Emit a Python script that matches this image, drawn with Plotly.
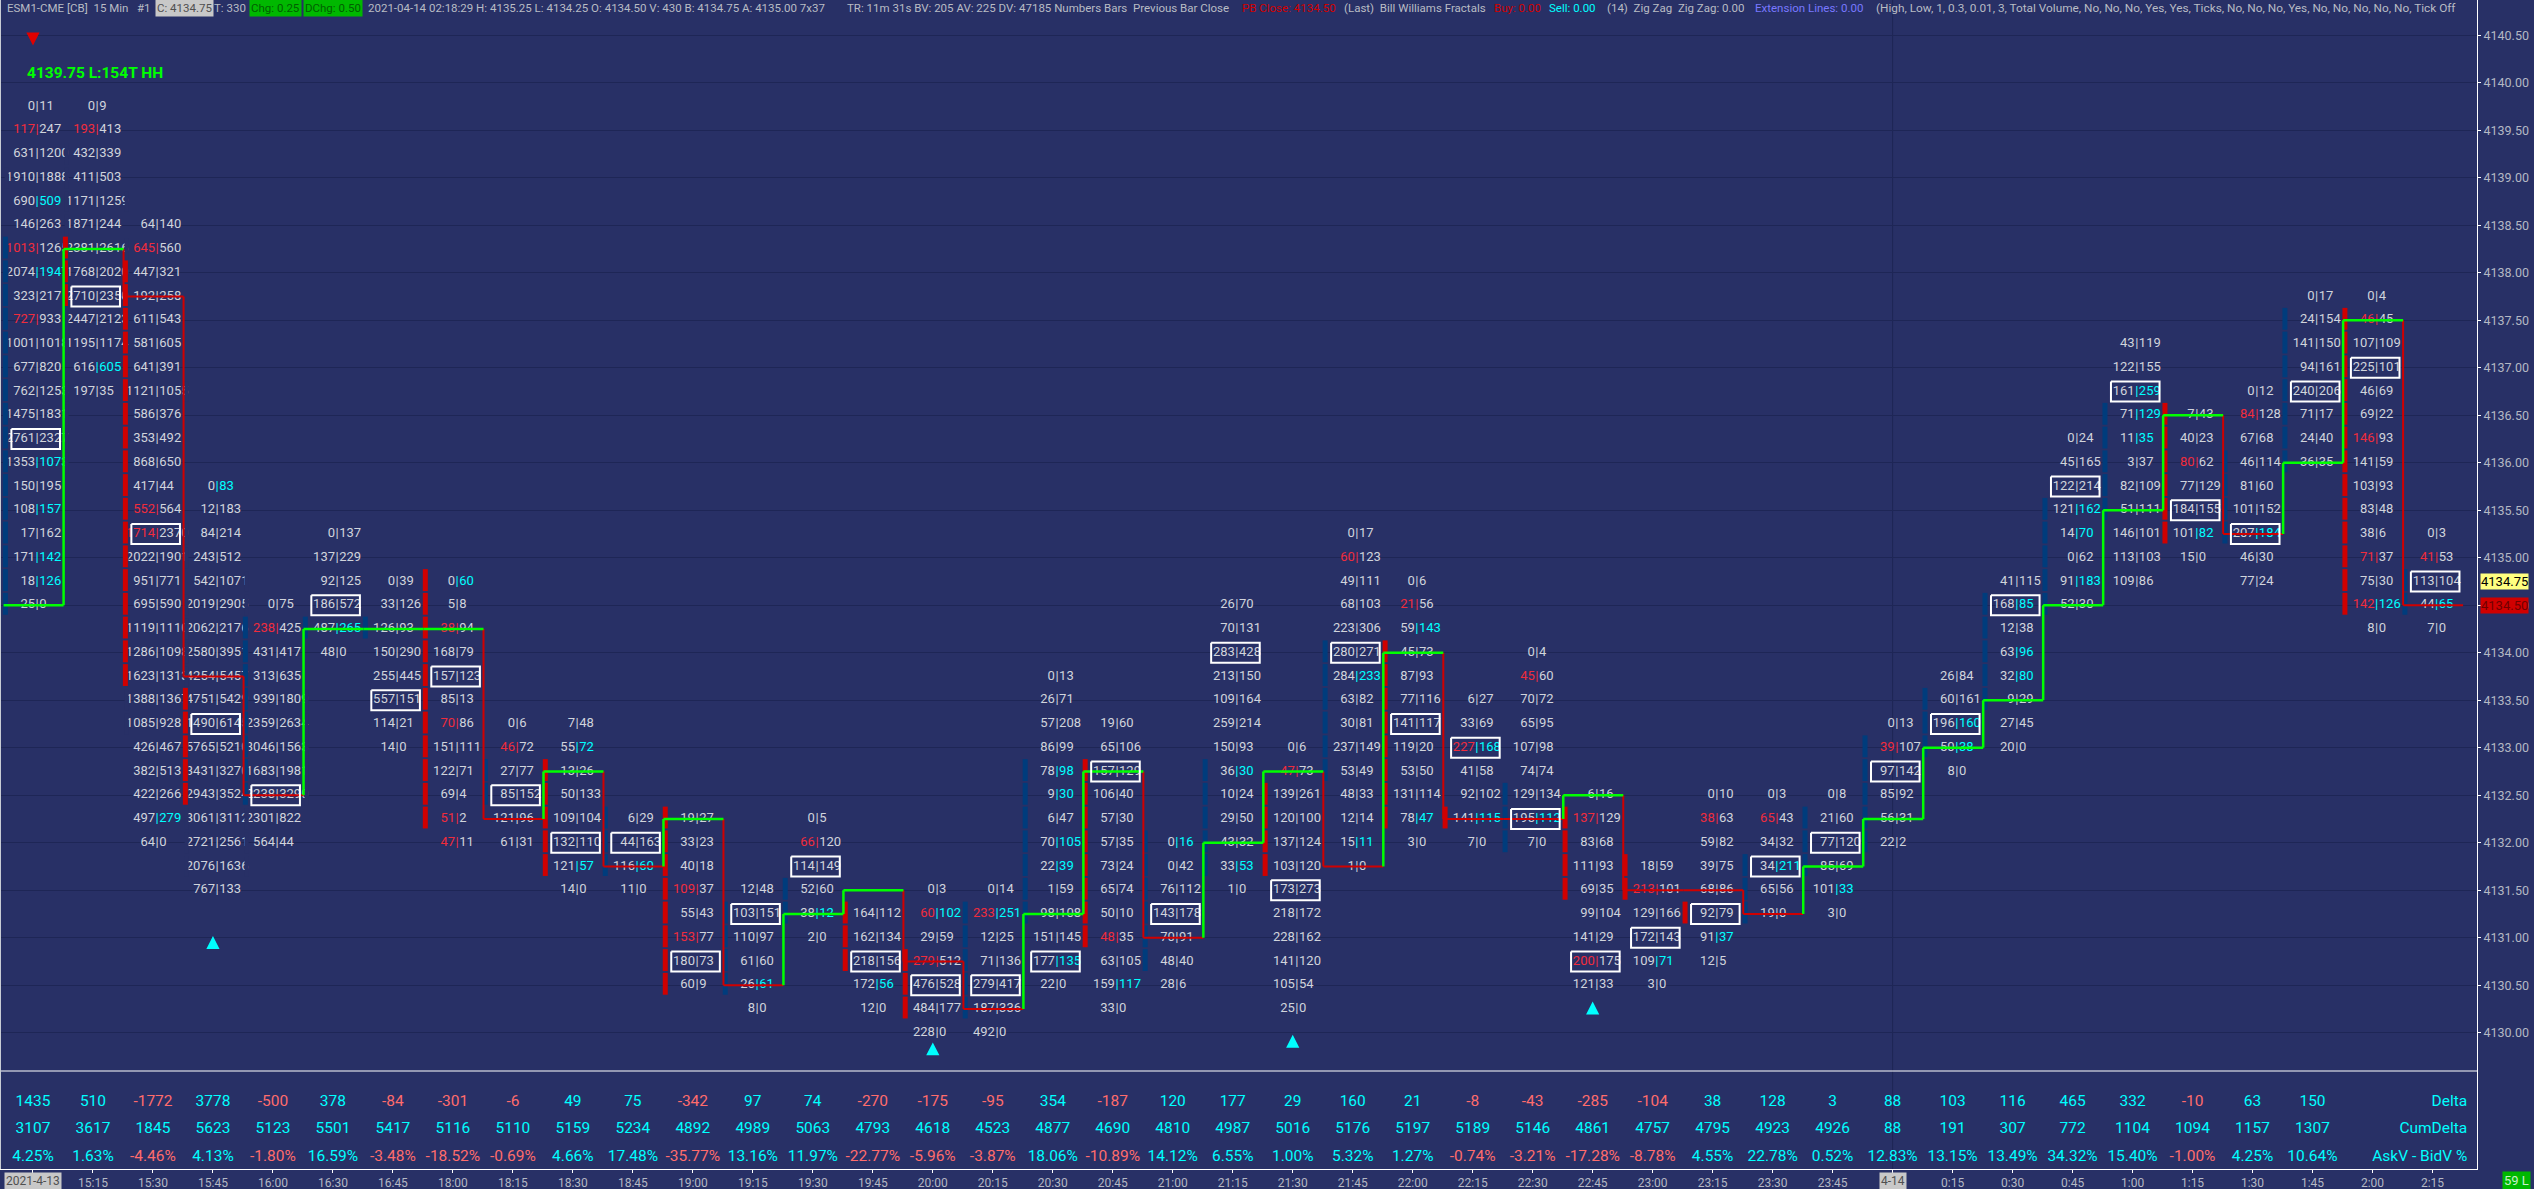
# ES footprint chart, 15 min bars, with delta rows under it
import plotly.graph_objects as go

BG = '#283066'
GRID = '#1e2656'
TEXT = '#d0d4dc'
RED = '#f02c3c'
CYAN = '#00ffff'
BAR_RED = '#d00000'
BAR_BLUE = '#003c7c'
FONT = 'Roboto'

time_labels = ['', '15:15', '15:30', '15:45', '16:00', '16:30', '16:45', '18:00', '18:15', '18:30', '18:45',
               '19:00', '19:15', '19:30', '19:45', '20:00', '20:15', '20:30', '20:45', '21:00', '21:15',
               '21:30', '21:45', '22:00', '22:15', '22:30', '22:45', '23:00', '23:15', '23:30', '23:45',
               '', '0:15', '0:30', '0:45', '1:00', '1:15', '1:30', '1:45', '2:00', '2:15']

# price of the first row in each bar
top_price = [4139.75, 4139.75, 4138.5, 4135.75, 4134.5, 4135.25, 4134.75, 4134.75, 4133.25, 4133.25,
             4132.25, 4132.25, 4131.5, 4132.25, 4131.25, 4131.5, 4131.5, 4133.75, 4133.25, 4132.0,
             4134.5, 4133.0, 4135.25, 4134.75, 4133.5, 4134.0, 4132.5, 4131.75, 4132.5, 4132.5,
             4132.5, 4133.25, 4133.75, 4134.75, 4136.25, 4137.25, 4136.5, 4136.75, 4137.75, 4137.75, 4135.25]

# bid|ask per row, r = red bid, c = cyan ask
bar_00 = ['0|11', 'r117|247', '631|1200', '1910|1888', '690|509c', '146|263', 'r1013|1265', '2074|1947c', '323|217', 'r727|933', '1001|1018', '677|820', '762|1253', '1475|1831', '2761|2327', '1353|1073c', '150|195', '108|157c', '17|162', '171|142c', '18|126c', '25|0']
bar_01 = ['0|9', 'r193|413', '432|339', '411|503', '1171|1259', '1871|244', '2381|2616', '1768|2020', '2710|2350', '2447|2123', '1195|1174', '616|605c', '197|35']
bar_02 = ['64|140', 'r645|560', '447|321', '192|258', '611|543', '581|605', '641|391', '1121|1055', '586|376', '353|492', '868|650', '417|44', 'r552|564', 'r1714|2370', '2022|1901', '951|771', '695|590', '1119|1110', '1286|1098', '1623|1313', '1388|1367', '1085|928', '426|467', '382|513', '422|266', '497|279c', '64|0']
bar_03 = ['0|83c', '12|183', '84|214', '243|512', '542|1071', '2019|2905', '2062|2176', '2580|3951', '4254|5457', '4751|5429', '1490|6145', '5765|5210', '3431|3270', '2943|3524', '3061|3112', '2721|2561', '2076|1636', '767|133']
bar_04 = ['0|75', 'r238|425', '431|417', '313|635', '939|1809', '2359|2634', '3046|1563', '1683|1981', '2238|3290', '2301|822', '564|44']
bar_05 = ['0|137', '137|229', '92|125', '186|572', '487|265c', '48|0']
bar_06 = ['0|39', '33|126', '126|93', '150|290', '255|445', '557|151', '114|21', '14|0']
bar_07 = ['0|60c', '5|8', 'r38|94', '168|79', '157|123', '85|13', 'r70|86', '151|111', '122|71', '69|4', 'r51|2', 'r47|11']
bar_08 = ['0|6', 'r46|72', '27|77', '85|152', '121|96', '61|31']
bar_09 = ['7|48', '55|72c', '13|26', '50|133', '109|104', '132|110', '121|57c', '14|0']
bar_10 = ['6|29', '44|163', '116|60c', '11|0']
bar_11 = ['19|27', '33|23', '40|18', 'r109|37', '55|43', 'r153|77', '180|73', '60|9']
bar_12 = ['12|48', '103|151', '110|97', '61|60', '26|61c', '8|0']
bar_13 = ['0|5', 'r66|120', '114|149', '52|60', '38|12c', '2|0']
bar_14 = ['164|112', '162|134', '218|156', '172|56c', '12|0']
bar_15 = ['0|3', 'r60|102c', '29|59', 'r279|512', '476|528', '484|177', '228|0']
bar_16 = ['0|14', 'r233|251c', '12|25', '71|136', '279|417', '187|336', '492|0']
bar_17 = ['0|13', '26|71', '57|208', '86|99', '78|98c', '9|30c', '6|47', '70|105c', '22|39c', '1|59', '98|108', '151|145', '177|135c', '22|0']
bar_18 = ['19|60', '65|106', '157|129', '106|40', '57|30', '57|35', '73|24', '65|74', '50|10', 'r48|35', '63|105', '159|117c', '33|0']
bar_19 = ['0|16c', '0|42', '76|112', '143|178', '70|91', '48|40', '28|6']
bar_20 = ['26|70', '70|131', '283|428', '213|150', '109|164', '259|214', '150|93', '36|30c', '10|24', '29|50', '43|32', '33|53c', '1|0']
bar_21 = ['0|6', 'r47|73', '139|261', '120|100', '137|124', '103|120', '173|273', '218|172', '228|162', '141|120', '105|54', '25|0']
bar_22 = ['0|17', 'r60|123', '49|111', '68|103', '223|306', '280|271', '284|233c', '63|82', '30|81', '237|149', '53|49', '48|33', '12|14', '15|11c', '1|0']
bar_23 = ['0|6', 'r21|56', '59|143c', '45|73', '87|93', '77|116', '141|117', '119|20', '53|50', '131|114', '78|47c', '3|0']
bar_24 = ['6|27', '33|69', 'r227|168c', '41|58', '92|102', '141|115c', '7|0']
bar_25 = ['0|4', 'r45|60', '70|72', '65|95', '107|98', '74|74', '129|134', '195|112c', '7|0']
bar_26 = ['6|16', 'r137|129', '83|68', '111|93', '69|35', '99|104', '141|29', 'r200|175', '121|33']
bar_27 = ['18|59', 'r213|101', '129|166', '172|143', '109|71c', '3|0']
bar_28 = ['0|10', 'r38|63', '59|82', '39|75', '68|86', '92|79', '91|37c', '12|5']
bar_29 = ['0|3', 'r65|43', '34|32', '34|211c', '65|56', '19|0']
bar_30 = ['0|8', '21|60', '77|120', '85|69', '101|33c', '3|0']
bar_31 = ['0|13', 'r39|107', '97|142', '85|92', '56|31', '22|2']
bar_32 = ['26|84', '60|161', '196|160c', '50|38c', '8|0']
bar_33 = ['41|115', '168|85c', '12|38', '63|96c', '32|80c', '9|29', '27|45', '20|0']
bar_34 = ['0|24', '45|165', '122|214', '121|162c', '14|70c', '0|62', '91|183c', '52|30']
bar_35 = ['43|119', '122|155', '161|259c', '71|129c', '11|35c', '3|37', '82|109', '51|111', '146|101', '113|103', '109|86']
bar_36 = ['7|43', '40|23', 'r80|62', '77|129', '184|155', '101|82c', '15|0']
bar_37 = ['0|12', 'r84|128', '67|68', '46|114', '81|60', '101|152', '207|184c', '46|30', '77|24']
bar_38 = ['0|17', '24|154', '141|150', '94|161', '240|206', '71|17', '24|40', '36|35']
bar_39 = ['0|4', 'r46|45', '107|109', '225|101', '46|69', '69|22', 'r146|93', '141|59', '103|93', '83|48', '38|6', 'r71|37', '75|30', 'r142|126c', '8|0']
bar_40 = ['0|3', 'r41|53', '113|104', '44|65c', '7|0']

bars = [bar_00, bar_01, bar_02, bar_03, bar_04, bar_05, bar_06, bar_07, bar_08, bar_09, bar_10, bar_11, bar_12, bar_13,
        bar_14, bar_15, bar_16, bar_17, bar_18, bar_19, bar_20, bar_21, bar_22, bar_23, bar_24, bar_25, bar_26, bar_27,
        bar_28, bar_29, bar_30, bar_31, bar_32, bar_33, bar_34, bar_35, bar_36, bar_37, bar_38, bar_39, bar_40]

# boxed row of each bar
poc_price = [4136.25, 4137.75, 4135.25, 4133.25, 4132.5, 4134.5, 4133.5, 4133.75, 4132.5, 4132.0,
             4132.0, 4130.75, 4131.25, 4131.75, 4130.75, 4130.5, 4130.5, 4130.75, 4132.75, 4131.25,
             4134.0, 4131.5, 4134.0, 4133.25, 4133.0, 4132.25, 4130.75, 4131.0, 4131.25, 4131.75,
             4132.0, 4132.75, 4133.25, 4134.5, 4135.75, 4136.75, 4135.5, 4135.25, 4136.75, 4137.0, 4134.75]

# stepped line level of each bar
step_level = [4134.5, 4138.25, 4137.75, 4133.75, 4132.5, 4134.25, 4134.25, 4134.25, 4132.25, 4132.75,
              4131.75, 4132.25, 4130.5, 4131.25, 4131.5, 4130.75, 4130.25, 4131.25, 4132.75, 4131.0,
              4132.0, 4132.75, 4131.75, 4134.0, 4132.25, 4132.25, 4132.5, 4131.5, 4131.5, 4131.25,
              4131.75, 4132.25, 4133.0, 4133.5, 4134.5, 4135.5, 4136.5, 4135.25, 4136.0, 4137.5, 4134.5]

# strip on the left of each bar
strip_top = [4138.25, 4138.25, 4138.0, 4133.5, 4134.25, 4134.25, 4134.25, 4134.75, 4132.75, 4132.75,
             4132.25, 4132.25, 4131.25, 4131.5, 4131.25, 4130.75, 4131.25, 4132.75, 4132.75, 4132.0,
             4132.75, 4132.5, 4134.0, 4134.0, 4132.25, 4132.5, 4132.25, 4131.75, 4131.25, 4131.75,
             4132.25, 4133.0, 4133.5, 4134.5, 4135.5, 4136.5, 4136.5, 4136.0, 4137.5, 4137.5, 4134.75]
strip_bottom = [4134.5, 4137.75, 4133.75, 4132.5, 4132.5, 4134.25, 4134.25, 4132.25, 4132.5, 4131.75,
                4131.75, 4130.5, 4130.5, 4131.25, 4130.75, 4130.25, 4130.25, 4131.25, 4131.0, 4130.75,
                4131.75, 4131.75, 4132.75, 4132.25, 4132.25, 4132.0, 4131.5, 4131.5, 4131.25, 4131.25,
                4131.75, 4132.0, 4133.0, 4133.5, 4134.5, 4135.5, 4135.25, 4135.25, 4136.0, 4134.5, 4134.5]
strip_colour = 'brrrbbbrbrbrbbrrbbrbbrbrrbrrrbbbbbbbrbbrb'

fractal_down_bar = [0]
fractal_down_price = [4140.46]
fractal_up_bar = [3, 15, 21, 26]
fractal_up_price = [4130.95, 4129.83, 4129.91, 4130.26]

delta = [1435, 510, -1772, 3778, -500, 378, -84, -301, -6, 49, 75, -342, 97, 74, -270, -175, -95, 354, -187, 120,
         177, 29, 160, 21, -8, -43, -285, -104, 38, 128, 3, 88, 103, 116, 465, 332, -10, 63, 150]
cum_delta = [3107, 3617, 1845, 5623, 5123, 5501, 5417, 5116, 5110, 5159, 5234, 4892, 4989, 5063, 4793, 4618, 4523,
             4877, 4690, 4810, 4987, 5016, 5176, 5197, 5189, 5146, 4861, 4757, 4795, 4923, 4926, 88, 191, 307, 772,
             1104, 1094, 1157, 1307]
ask_bid_pct = [4.25, 1.63, -4.46, 4.13, -1.80, 16.59, -3.48, -18.52, -0.69, 4.66, 17.48, -35.77, 13.16, 11.97, -22.77,
               -5.96, -3.87, 18.06, -10.89, 14.12, 6.55, 1.00, 5.32, 1.27, -0.74, -3.21, -17.28, -8.78, 4.55, 22.78,
               0.52, 12.83, 13.15, 13.49, 34.32, 15.40, -1.00, 4.25, 10.64]
row_names = ['AskV - BidV %', 'CumDelta', 'Delta']

header_texts = [
    'ESM1-CME [CB]  15 Min   #1', 'C: 4134.75', 'T: 330', 'Chg: 0.25', 'DChg: 0.50',
    '2021-04-14 02:18:29 H: 4135.25 L: 4134.25 O: 4134.50 V: 430 B: 4134.75 A: 4135.00 7x37',
    'TR: 11m 31s BV: 205 AV: 225 DV: 47185 Numbers Bars  Previous Bar Close',
    'PB Close: 4134.50', '(Last)  Bill Williams Fractals', 'Buy: 0.00', 'Sell: 0.00',
    '(14)  Zig Zag  Zig Zag: 0.00', 'Extension Lines: 0.00',
    '(High, Low, 1, 0.3, 0.01, 3, Total Volume, No, No, No, Yes, Yes, Ticks, No, No, No, Yes, No, No, No, No, No, Tick Off',
]
# left pixel, size, colour, background for each header piece
HEAD = '#b8bcc4'
header_styles = [
    (5, 11.5, HEAD, None), (155, 11.5, '#505050', '#c8c8c8'), (212, 11.5, HEAD, None),
    (249, 11.5, '#006000', '#00b800'), (303, 11.5, '#006000', '#00b800'),
    (366, 11.5, HEAD, None), (845, 11.5, HEAD, None), (1240, 11.5, '#d00000', None), (1342, 11.5, HEAD, None),
    (1492, 11.5, '#d00000', None), (1547, 11.5, CYAN, None), (1605, 11.5, HEAD, None), (1753, 11.5, '#7878ff', None),
    (1874, 11.8, HEAD, None),
]

PLOT_W = 2477.5
PLOT_H = 1169.0
SEP_X = 0.07

bid_x, ask_x, sep_x, row_y = [], [], [], []
bid_txt, ask_txt, bid_col, ask_col, sep_col = [], [], [], [], []
mask_x, mask_y = [], []
for i, rows in enumerate(bars):
    for j, cell in enumerate(rows):
        price = top_price[i] - j * 0.25
        bid, ask = cell.split('|')
        is_red = bid.startswith('r')
        is_cyan = ask.endswith('c')
        bid = bid.lstrip('r')
        ask = ask.rstrip('c')
        bid_x.append(i + SEP_X - 0.035)
        ask_x.append(i + SEP_X + 0.035)
        sep_x.append(i + SEP_X)
        row_y.append(price)
        bid_txt.append(bid)
        ask_txt.append(ask)
        bid_col.append(RED if is_red else TEXT)
        ask_col.append(CYAN if is_cyan else TEXT)
        sep_col.append(CYAN if is_cyan else (RED if is_red else TEXT))
        # numbers wider than the column get cut at its edges
        if len(bid) > 3:
            mask_x += [i - 0.44, i - 0.44, None]
            mask_y += [price + 0.11, price - 0.11, None]
        if len(ask) > 3:
            mask_x += [i + 0.56, i + 0.56, None]
            mask_y += [price + 0.11, price - 0.11, None]

strip_x = {'r': [], 'b': []}
strip_y = {'r': [], 'b': []}
for i, c in enumerate(strip_colour):
    price = strip_top[i]
    while price >= strip_bottom[i]:
        strip_x[c] += [i - 0.46, i - 0.46, None]
        strip_y[c] += [price + 0.13, price - 0.1, None]
        price -= 0.25

step_x = {'up': [], 'down': []}
step_y = {'up': [], 'down': []}
direction = 'up'
for i, level in enumerate(step_level):
    if i > 0 and level != step_level[i - 1]:
        direction = 'up' if level > step_level[i - 1] else 'down'
        step_x[direction] += [i - 0.49, i - 0.49, None]
        step_y[direction] += [step_level[i - 1], level, None]
    step_x[direction] += [i - 0.49, i + 0.51, None]
    step_y[direction] += [level, level, None]

box_x, box_y = [], []
for i, price in enumerate(poc_price):
    box_x += [i - 0.36, i + 0.45, i + 0.45, i - 0.36, i - 0.36, None]
    box_y += [price + 0.105, price + 0.105, price - 0.105, price - 0.105, price + 0.105, None]

fig = go.Figure()


def add_text(x, y, text, colour, pos, size=13, axis='y'):
    fig.add_trace(go.Scatter(x=x, y=y, text=text, mode='text', textposition=pos, yaxis=axis,
                             textfont=dict(family=FONT, size=size, color=colour), hoverinfo='skip'))


def add_line(x, y, colour, width):
    fig.add_trace(go.Scatter(x=x, y=y, mode='lines', line=dict(color=colour, width=width), hoverinfo='skip'))


def add_triangles(bar_ids, prices, colour, point_down):
    # outline each triangle around its bar and price
    tip = -0.068 if point_down else 0.068
    tx, ty = [], []
    for b, p in zip(bar_ids, prices):
        tx += [b - 0.11, b + 0.11, b, b - 0.11, None]
        ty += [p - tip, p - tip, p + tip, p - tip, None]
    fig.add_trace(go.Scatter(x=tx, y=ty, mode='lines', fill='toself', fillcolor=colour, line=dict(width=0),
                             hoverinfo='skip'))


add_text(bid_x, row_y, bid_txt, bid_col, 'middle left')
add_text(ask_x, row_y, ask_txt, ask_col, 'middle right')
add_text(sep_x, row_y, ['|'] * len(row_y), sep_col, 'middle center')
add_line(mask_x, mask_y, BG, 4)
add_line(strip_x['r'], strip_y['r'], BAR_RED, 5)
add_line(strip_x['b'], strip_y['b'], BAR_BLUE, 5)
add_line(step_x['down'], step_y['down'], BAR_RED, 2)
add_line(step_x['up'], step_y['up'], '#00ff00', 2.5)
add_line(box_x, box_y, 'white', 2)

add_triangles(fractal_down_bar, fractal_down_price, '#e00000', True)
add_triangles(fractal_up_bar, fractal_up_price, CYAN, False)

# stats pane
bar_ids = list(range(len(delta)))
pos_neg = lambda vals: [CYAN if v >= 0 else '#ff6c6c' for v in vals]
add_text(bar_ids, [2] * len(delta), [str(v) for v in delta], pos_neg(delta), 'middle center', 15.5, 'y2')
add_text(bar_ids, [1] * len(delta), [str(v) for v in cum_delta], pos_neg(cum_delta), 'middle center', 15.5, 'y2')
add_text(bar_ids, [0] * len(delta), ['%.2f%%' % v for v in ask_bid_pct], pos_neg(ask_bid_pct), 'middle center', 15.5, 'y2')
add_text([40.58] * 3, [0, 1, 2], row_names, CYAN, 'middle left', 15.5, 'y2')

annotations = []
for text, (left, size, colour, back) in zip(header_texts, header_styles):
    annotations.append(dict(text=text, x=left / PLOT_W, y=1 - 8 / PLOT_H, xref='paper', yref='paper', xanchor='left',
                            yanchor='middle', showarrow=False, bgcolor=back, borderpad=1,
                            font=dict(family=FONT, size=size, color=colour)))
annotations.append(dict(text='<b>4139.75 L:154T HH</b>', x=25 / PLOT_W, y=1 - 72.7 / PLOT_H, xref='paper', yref='paper',
                        xanchor='left', yanchor='middle', showarrow=False,
                        font=dict(family=FONT, size=15.5, color='#00ff00')))
for text, i in (('2021-4-13', 0), ('4-14', 31)):
    annotations.append(dict(text=text, x=i, y=-11.7 / PLOT_H, xref='x', yref='paper', xanchor='center', yanchor='middle',
                            showarrow=False, bgcolor='#c8c8c8', borderpad=1,
                            font=dict(family=FONT, size=12, color='#505050')))
annotations.append(dict(text='59 L', x=2503 / PLOT_W, y=-11.7 / PLOT_H, xref='paper', yref='paper', xanchor='left',
                        yanchor='middle', showarrow=False, bgcolor='#00b800', borderpad=1,
                        font=dict(family=FONT, size=13, color='#c8f0c8')))
for price, colour, back in ((4134.75, '#000000', '#ffff80'), (4134.5, '#700000', '#d00000')):
    annotations.append(dict(text='%.2f' % price, x=2481 / PLOT_W, y=price, xref='paper', yref='y', xanchor='left',
                            yanchor='middle', showarrow=False, bgcolor=back, borderpad=0,
                            font=dict(family=FONT, size=13, color=colour)))

white = dict(color='white', width=1)
shapes = [
    dict(type='line', xref='paper', yref='paper', x0=0, x1=1, y0=98 / PLOT_H, y1=98 / PLOT_H, line=white),
    dict(type='line', xref='paper', yref='paper', x0=0, x1=0, y0=0, y1=1, line=dict(color='#c8ccd4', width=2)),
    dict(type='line', xref='x', yref='paper', x0=31, x1=31, y0=0, y1=1, line=dict(color=GRID, width=1), layer='below'),
]

fig.update_layout(
    width=2534, height=1189, showlegend=False, paper_bgcolor=BG, plot_bgcolor=BG,
    margin=dict(l=0, r=56.5, t=0, b=20),
    annotations=annotations, shapes=shapes,
    xaxis=dict(range=[-0.55, 40.742], anchor='y2', tickmode='array', tickvals=list(range(41)), ticktext=time_labels,
               ticks='outside', ticklen=3, tickcolor='white', showgrid=False, zeroline=False, showline=True,
               linecolor='white', linewidth=1, tickfont=dict(family=FONT, size=12, color='#b4b8c4'), tickangle=0),
    yaxis=dict(domain=[98 / PLOT_H, 1], range=[4129.597, 4140.871], anchor='x', side='right', tickmode='array',
               tickvals=[4130 + k * 0.5 for k in range(22)], tickformat='.2f', gridcolor=GRID, gridwidth=1,
               ticks='outside', ticklen=3, tickcolor='white', showline=True, linecolor='white', linewidth=1,
               zeroline=False, tickfont=dict(family=FONT, size=12.5, color='#b4b8c4')),
    yaxis2=dict(domain=[0, 98 / PLOT_H], range=[-0.45, 3.13], anchor='x', side='right', showgrid=False, zeroline=False,
                showticklabels=False, showline=True, linecolor='white', linewidth=1),
)

fig.write_html('out.html', config={'displayModeBar': False}, post_script="document.body.style.margin='0'")
